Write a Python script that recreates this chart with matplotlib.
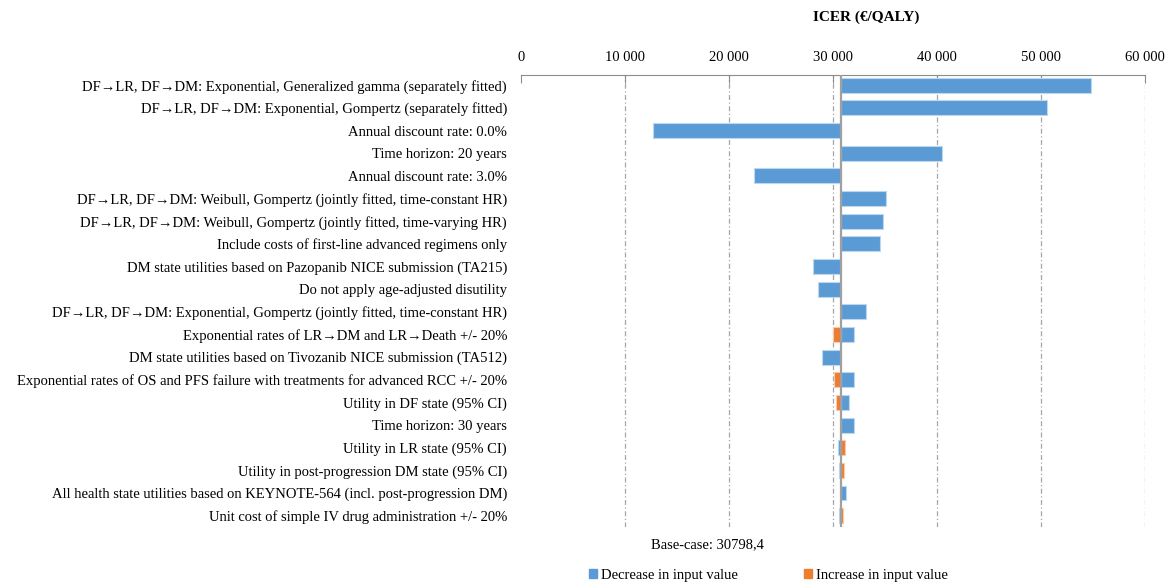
import numpy as np
import matplotlib
matplotlib.use("Agg")
import matplotlib.pyplot as plt
from matplotlib.patches import Patch

plt.rcParams["font.family"] = ["Liberation Serif", "DejaVu Serif"]

# %%
# One-way sensitivity analysis: ICER for low / high input values
base_case = 30798.4

parameters = [
    "DF\u2192LR, DF\u2192DM: Exponential, Generalized gamma (separately fitted)",
    "DF\u2192LR, DF\u2192DM: Exponential, Gompertz (separately fitted)",
    "Annual discount rate: 0.0%",
    "Time horizon: 20 years",
    "Annual discount rate: 3.0%",
    "DF\u2192LR, DF\u2192DM: Weibull, Gompertz (jointly fitted, time-constant HR)",
    "DF\u2192LR, DF\u2192DM: Weibull, Gompertz (jointly fitted, time-varying HR)",
    "Include costs of first-line advanced regimens only",
    "DM state utilities based on Pazopanib NICE submission (TA215)",
    "Do not apply age-adjusted disutility",
    "DF\u2192LR, DF\u2192DM: Exponential, Gompertz (jointly fitted, time-constant HR)",
    "Exponential rates of LR\u2192DM and LR\u2192Death +/- 20%",
    "DM state utilities based on Tivozanib NICE submission (TA512)",
    "Exponential rates of OS and PFS failure with treatments for advanced RCC +/- 20%",
    "Utility in DF state (95% CI)",
    "Time horizon: 30 years",
    "Utility in LR state (95% CI)",
    "Utility in post-progression DM state (95% CI)",
    "All health state utilities based on KEYNOTE-564 (incl. post-progression DM)",
    "Unit cost of simple IV drug administration +/- 20%",
]

# ICER when the input is decreased / increased (nan = not applicable)
icer_decrease = [54800, 50600, 12700, 40500, 22400, 35100, 34800, 34500,
                 28100, 28550, 33200, 32000, 28900, 32000, 31550, 32000,
                 30450, 30550, 31250, 30550]
icer_increase = [np.nan, np.nan, np.nan, np.nan, np.nan, np.nan, np.nan, np.nan,
                 np.nan, np.nan, np.nan, 30000, np.nan, 30100, 30250, np.nan,
                 31200, 31100, np.nan, 31000]

x_ticks = [0, 10000, 20000, 30000, 40000, 50000, 60000]

blue = "#5b9bd5"
orange = "#ed7d31"

fig = plt.figure(figsize=(11.75, 5.86), dpi=100)
ax = fig.add_axes([0.4434, 0.1007, 0.5311, 0.7713])

y = np.arange(len(parameters))
dec = np.array(icer_decrease, dtype=float)
inc = np.array(icer_increase, dtype=float)

ax.barh(y, dec - base_case, left=base_case, height=0.66, color=blue,
        edgecolor="#bdd7ee", linewidth=0.8, zorder=3)
ax.barh(y, inc - base_case, left=base_case, height=0.66, color=orange,
        edgecolor="#f8cbad", linewidth=0.8, zorder=3)

# dashed grid lines and the base-case line
for t in x_ticks[1:]:
    ax.axvline(t, color="#a6a6a6", linewidth=0.9, linestyle=(0, (4, 2, 1, 2)), zorder=1)
ax.axvline(base_case, color="#a0a0a0", linewidth=1.6, zorder=4)

ax.set_xlim(0, 60000)
ax.set_ylim(len(parameters) - 0.5, -0.45)
ax.set_yticks(y)
ax.set_yticklabels(parameters, fontsize=10.5)
ax.tick_params(axis="y", length=0, pad=10)

ax.xaxis.tick_top()
ax.set_xticks(x_ticks)
ax.set_xticklabels([f"{t:,}".replace(",", " ") for t in x_ticks], fontsize=10.5)
ax.tick_params(axis="x", direction="in", length=6, color="#8c8c8c", pad=8)

for side in ["bottom", "left", "right"]:
    ax.spines[side].set_visible(False)
ax.spines["top"].set_color("#8c8c8c")

fig.text(0.737, 0.97, "ICER (\u20ac/QALY)", fontsize=11, fontweight="bold",
         ha="center", va="center")
fig.text(0.602, 0.071, f"Base-case: {base_case:.1f}".replace(".", ","),
         fontsize=10.5, ha="center", va="center")

handles = [Patch(facecolor=blue, edgecolor=blue),
           Patch(facecolor=orange, edgecolor=orange)]
fig.legend(handles, ["Decrease in input value", "Increase in input value"],
           loc="center", bbox_to_anchor=(0.654, 0.018), ncol=2, frameon=False,
           fontsize=10.5, handlelength=0.55, handleheight=0.55, handletextpad=0.3,
           columnspacing=4.5)

fig.savefig("out.png", dpi=100)
